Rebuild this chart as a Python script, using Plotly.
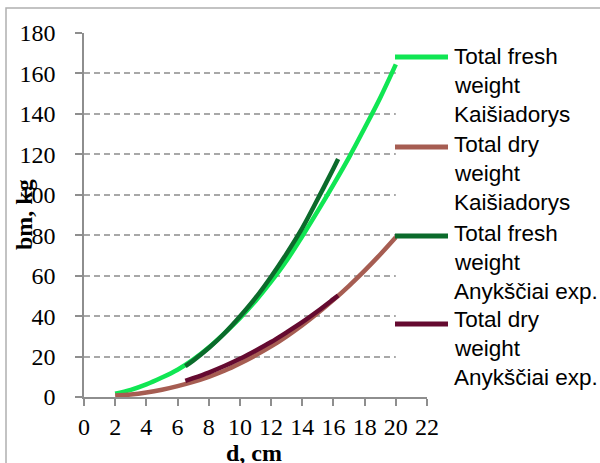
import plotly.graph_objects as go

# ---------------- data ----------------
d_kais = [2, 3, 4, 5, 6, 7, 8, 9, 10, 11, 12, 13, 14, 15, 16, 17, 18, 19, 20]
fresh_kais = [1.6, 3.5, 6.2, 9.6, 13.5, 18.5, 24.5, 31.5, 39.0, 47.5, 57.0, 67.5, 79.5, 92.0, 105.0, 118.5, 133.0, 148.0, 164.5]
dry_kais = [0.7, 1.2, 2.2, 3.6, 5.4, 7.5, 10.0, 13.0, 16.6, 20.6, 25.0, 30.0, 35.5, 41.5, 48.0, 55.0, 62.5, 70.5, 79.0]

d_anyk = [6.5, 7, 8, 9, 10, 11, 12, 13, 14, 15, 16, 16.3]
fresh_anyk = [15.3, 18.0, 24.2, 31.4, 39.8, 49.0, 59.5, 71.0, 83.5, 98.0, 113.0, 117.7]
dry_anyk = [8.0, 9.3, 12.1, 15.3, 18.9, 22.9, 27.2, 32.0, 37.0, 42.5, 48.4, 50.2]

series_names = [
    "Total fresh<br>weight<br>Kaišiadorys",
    "Total dry<br>weight<br>Kaišiadorys",
    "Total fresh<br>weight<br>Anykščiai exp.",
    "Total dry<br>weight<br>Anykščiai exp.",
]
series_colors = ["#10e653", "#a65d52", "#0b6b2b", "#650a30"]

x_ticks = [0, 2, 4, 6, 8, 10, 12, 14, 16, 18, 20, 22]
y_ticks = [0, 20, 40, 60, 80, 100, 120, 140, 160, 180]
x_title = "d, cm"
y_title = "bm, kg"

# ---------------- layout geometry (pixels) ----------------
W, H = 600, 463
L, R, T, B = 84, 427, 33, 397


def px_x(px):
    return (px - L) / (R - L)


def px_y(py):
    return (B - py) / (B - T)


fig = go.Figure()
xs = [d_kais, d_kais, d_anyk, d_anyk]
ys = [fresh_kais, dry_kais, fresh_anyk, dry_anyk]
for x, y, name, col in zip(xs, ys, series_names, series_colors):
    fig.add_trace(go.Scatter(x=x, y=y, mode="lines", name=name.replace("<br>", " "),
                             line=dict(color=col, width=4.5, shape="spline"),
                             showlegend=False, hoverinfo="skip"))

shapes = []
# white area behind the legend (hides gridlines right of x=20)
shapes.append(dict(type="rect", xref="x", yref="y", x0=20, x1=22.5, y0=0.6, y1=176,
                   fillcolor="white", line=dict(width=0), layer="between"))
# outer border
shapes.append(dict(type="rect", xref="paper", yref="paper",
                   x0=px_x(6), x1=px_x(650), y0=px_y(520), y1=px_y(8),
                   line=dict(color="#b0b0b0", width=1.5), fillcolor="rgba(0,0,0,0)"))

annotations = []
sample_y = [57, 147, 236, 324]
first_base = [65, 153, 242, 328]
line_h = 28.6
leg_size = 22.5
for i, (name, col) in enumerate(zip(series_names, series_colors)):
    shapes.append(dict(type="line", xref="paper", yref="paper",
                       x0=px_x(395), x1=px_x(448), y0=px_y(sample_y[i]), y1=px_y(sample_y[i]),
                       line=dict(color=col, width=5)))
    for j, part in enumerate(name.split("<br>")):
        base = first_base[i] + j * line_h
        annotations.append(dict(text=part, xref="paper", yref="paper", showarrow=False,
                                x=px_x(452), y=px_y(base - 0.36 * leg_size),
                                xanchor="left", yanchor="middle",
                                font=dict(family="Liberation Sans, Arial, sans-serif", size=leg_size, color="black")))

annotations.append(dict(text="<b>%s</b>" % x_title, xref="paper", yref="paper", showarrow=False,
                        x=px_x(254), y=px_y(453), xanchor="center", yanchor="middle",
                        font=dict(family="Liberation Serif, Times New Roman, serif", size=24, color="black")))
annotations.append(dict(text="<b>%s</b>" % y_title, xref="paper", yref="paper", showarrow=False,
                        x=px_x(24), y=0.5, xanchor="center", yanchor="middle", textangle=-90,
                        font=dict(family="Liberation Serif, Times New Roman, serif", size=24, color="black")))

axis_col = "#8e8e8e"
tick_font = dict(family="Liberation Serif, Times New Roman, serif", size=24, color="black")

fig.update_layout(
    width=W, height=H,
    margin=dict(l=L, r=W - R, t=T, b=H - B),
    paper_bgcolor="white", plot_bgcolor="white",
    shapes=shapes, annotations=annotations,
    xaxis=dict(range=[0, 22], tickvals=x_ticks, ticktext=[str(v) for v in x_ticks],
               showgrid=False, zeroline=False, showline=True, linecolor=axis_col, linewidth=1.5,
               ticks="outside", ticklen=7, tickcolor=axis_col, tickwidth=1.5,
               tickfont=tick_font, ticklabelstandoff=0, fixedrange=True),
    yaxis=dict(range=[0, 180], tickvals=y_ticks, ticktext=[str(v) for v in y_ticks],
               showgrid=True, gridcolor="#a8a8a8", gridwidth=1.5, griddash="6px,4px",
               zeroline=False, showline=True, linecolor=axis_col, linewidth=1.5,
               ticks="outside", ticklen=7, tickcolor=axis_col, tickwidth=1.5,
               tickfont=tick_font, ticklabelstandoff=15, fixedrange=True),
)

fig.write_html("out.html")
